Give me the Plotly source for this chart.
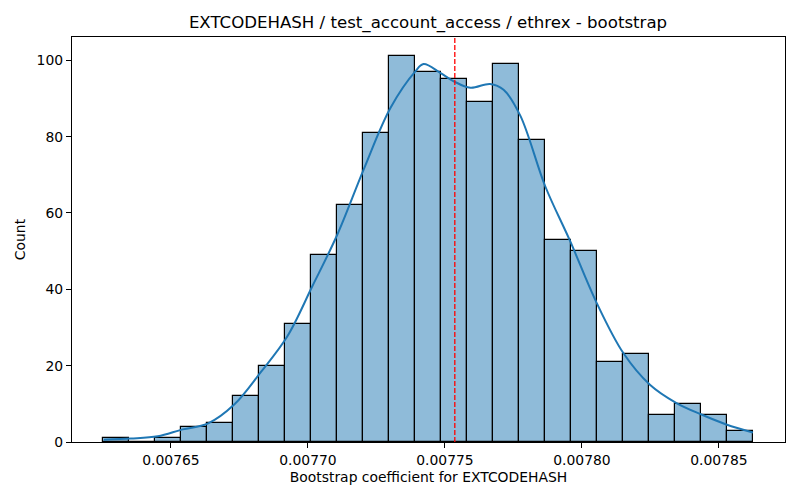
import plotly.graph_objects as go

# histogram: 25 bins, 1000 bootstrap samples
bin_start = 0.0076253
bin_width = 0.00000949
counts = [1, 0, 1, 4, 5, 12, 20, 31, 49, 62, 81, 101, 97,
          95, 89, 99, 79, 53, 50, 21, 23, 7, 10, 7, 3]

# kde curve (scaled to counts), read point by point
kde_x = [0.0076255, 0.0076354, 0.0076452, 0.0076543, 0.0076634, 0.0076731,
         0.0076828, 0.0076925, 0.0077016, 0.0077107, 0.0077204, 0.0077301,
         0.0077392, 0.0077422, 0.0077483, 0.0077532, 0.0077593, 0.0077665,
         0.0077714, 0.0077775, 0.0077866, 0.0077957, 0.0078054, 0.0078151,
         0.0078248, 0.0078345, 0.0078436, 0.0078527, 0.0078624]
kde_y = [0.6, 0.9, 1.5, 3.3, 4.8, 9.8, 18.3, 27.7, 40.8, 54.3, 71.5, 87.5,
         97.1, 99.0, 96.7, 94.5, 92.8, 93.8, 92.3, 85.5, 67.0, 52.6, 36.4,
         23.3, 15.0, 10.2, 7.2, 4.6, 2.5]

coef_line = 0.0077536

x_ticks = [0.00765, 0.00770, 0.00775, 0.00780, 0.00785]
y_ticks = [0, 20, 40, 60, 80, 100]

centers = [bin_start + bin_width * (i + 0.5) for i in range(len(counts))]

fig = go.Figure()
fig.add_trace(go.Bar(
    x=centers, y=counts, width=bin_width,
    marker=dict(color="rgba(31,119,180,0.5)",
                line=dict(color="black", width=1.2)),
    hoverinfo="x+y",
))
fig.add_trace(go.Scatter(
    x=kde_x, y=kde_y, mode="lines",
    line=dict(color="#1f77b4", width=2, shape="spline"),
))
fig.add_vline(x=coef_line, line=dict(color="red", width=1.3, dash="5px,2px"))

fig.update_layout(
    width=800, height=500,
    margin=dict(l=72, r=15, t=37, b=58, autoexpand=False),
    paper_bgcolor="white", plot_bgcolor="white",
    font=dict(family="DejaVu Sans", color="black"),
    showlegend=False,
    bargap=0,
    title=dict(text="EXTCODEHASH / test_account_access / ethrex - bootstrap",
               x=0.535, xanchor="center", y=0.955, yanchor="middle",
               font=dict(size=16.6, color="black")),
)
fig.update_xaxes(
    showline=True, linecolor="black", linewidth=1.2, mirror=True,
    ticks="outside", ticklen=5, tickcolor="black",
    showgrid=False, zeroline=False,
    tickfont=dict(size=13.9, color="black"),
    range=[0.0076139, 0.0078741],
    tickvals=x_ticks, ticktext=[f"{v:.5f}" for v in x_ticks],
    title=dict(text="Bootstrap coefficient for EXTCODEHASH",
               font=dict(size=13.9, color="black"), standoff=5),
)
fig.update_yaxes(
    showline=True, linecolor="black", linewidth=1.2, mirror=True,
    ticks="outside", ticklen=5, tickcolor="black",
    showgrid=False, zeroline=False,
    tickfont=dict(size=13.9, color="black"),
    range=[0, 106.1], tickvals=y_ticks,
    title=dict(text="Count", font=dict(size=13.9, color="black"), standoff=7),
)

# drop the browser's default 8px body margin so the figure sits at 0,0
fig.write_html("out.html", config={"displayModeBar": False},
               post_script="document.body.style.margin='0';")
